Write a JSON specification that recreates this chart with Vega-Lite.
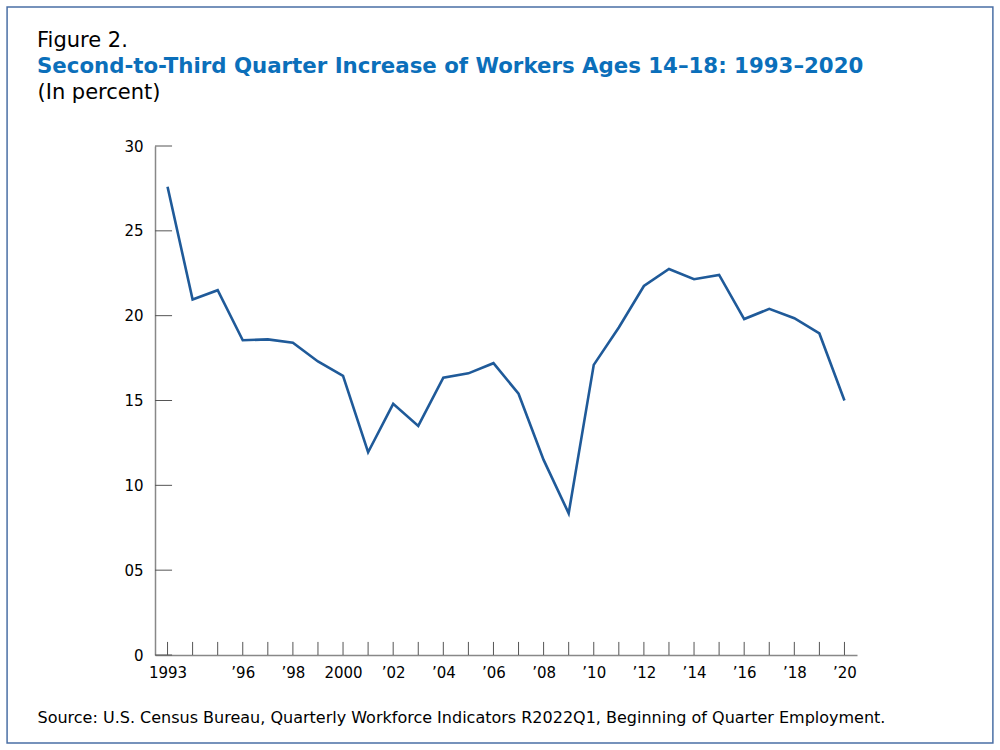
{
  "$schema": "https://vega.github.io/schema/vega-lite/v6.json",
  "width": 702,
  "height": 509,
  "autosize": {"type": "none"},
  "padding": {"left": 155, "top": 146, "right": 143, "bottom": 95},
  "background": "white",
  "config": {
    "view": {"stroke": null},
    "font": "DejaVu Sans"
  },
  "title": {
    "text": "Figure 2.",
    "subtitle": "Second-to-Third Quarter Increase of Workers Ages 14–18: 1993–2020",
    "anchor": "start",
    "frame": "group",
    "dx": -118,
    "dy": 71,
    "offset": 0,
    "font": "DejaVu Sans",
    "fontSize": 21,
    "fontWeight": "normal",
    "color": "black",
    "subtitleFont": "DejaVu Sans",
    "subtitleFontSize": 21.3,
    "subtitleFontWeight": "bold",
    "subtitleColor": "#0b6fba",
    "subtitlePadding": 5
  },
  "datasets": {
    "series": [
      {"year": 1993, "pct": 27.6},
      {"year": 1994, "pct": 20.95},
      {"year": 1995, "pct": 21.5},
      {"year": 1996, "pct": 18.55},
      {"year": 1997, "pct": 18.6},
      {"year": 1998, "pct": 18.4},
      {"year": 1999, "pct": 17.3},
      {"year": 2000, "pct": 16.45},
      {"year": 2001, "pct": 11.95},
      {"year": 2002, "pct": 14.8},
      {"year": 2003, "pct": 13.5},
      {"year": 2004, "pct": 16.35},
      {"year": 2005, "pct": 16.6},
      {"year": 2006, "pct": 17.2},
      {"year": 2007, "pct": 15.4},
      {"year": 2008, "pct": 11.5},
      {"year": 2009, "pct": 8.35},
      {"year": 2010, "pct": 17.1},
      {"year": 2011, "pct": 19.3},
      {"year": 2012, "pct": 21.75},
      {"year": 2013, "pct": 22.75},
      {"year": 2014, "pct": 22.15},
      {"year": 2015, "pct": 22.4},
      {"year": 2016, "pct": 19.8},
      {"year": 2017, "pct": 20.4},
      {"year": 2018, "pct": 19.85},
      {"year": 2019, "pct": 18.95},
      {"year": 2020, "pct": 15.0}
    ],
    "yticks": [
      {"pct": 0}, {"pct": 5}, {"pct": 10}, {"pct": 15}, {"pct": 20}, {"pct": 25}, {"pct": 30}
    ]
  },
  "layer": [
    {
      "data": {"name": "series"},
      "mark": {"type": "line", "color": "#1f5a99", "strokeWidth": 2.6},
      "encoding": {
        "x": {
          "field": "year",
          "type": "quantitative",
          "scale": {"domain": [1992.5, 2020.5], "nice": false, "zero": false},
          "axis": {
            "values": [1993, 1996, 1998, 2000, 2002, 2004, 2006, 2008, 2010, 2012, 2014, 2016, 2018, 2020],
            "labelExpr": "datum.value == 1993 || datum.value == 2000 ? datum.value + '' : '’' + substring(datum.value + '', 2, 4)",
            "grid": false,
            "ticks": false,
            "domainColor": "#888888",
            "domainWidth": 1.5,
            "labelPadding": 10,
            "labelFontSize": 15,
            "labelColor": "black",
            "labelFont": "DejaVu Sans",
            "labelOverlap": false,
            "title": "Source: U.S. Census Bureau, Quarterly Workforce Indicators R2022Q1, Beginning of Quarter Employment.",
            "titleFont": "DejaVu Sans",
            "titleFontSize": 16,
            "titleFontWeight": "normal",
            "titleColor": "black",
            "titleAlign": "left",
            "titleBaseline": "alphabetic",
            "titleAnchor": "start",
            "titleX": -118,
            "titleY": 67
          }
        },
        "y": {
          "field": "pct",
          "type": "quantitative",
          "scale": {"domain": [0, 30], "nice": false},
          "axis": {
            "values": [0, 5, 10, 15, 20, 25, 30],
            "labelExpr": "datum.value == 0 ? '0' : (datum.value == 5 ? '05' : datum.label)",
            "grid": false,
            "ticks": false,
            "domainColor": "#888888",
            "domainWidth": 1.5,
            "labelPadding": 12,
            "labelFontSize": 15,
            "labelColor": "black",
            "labelFont": "DejaVu Sans",
            "labelOverlap": false,
            "title": "(In percent)",
            "titleFont": "DejaVu Sans",
            "titleFontSize": 21,
            "titleFontWeight": "normal",
            "titleColor": "black",
            "titleAngle": 0,
            "titleAlign": "left",
            "titleBaseline": "alphabetic",
            "titleX": -118,
            "titleY": -48
          }
        }
      }
    },
    {
      "data": {"name": "series"},
      "mark": {"type": "rule", "color": "#555555", "strokeWidth": 1},
      "encoding": {
        "x": {"field": "year", "type": "quantitative"},
        "y": {"datum": 0, "type": "quantitative"},
        "y2": {"datum": 0.77}
      }
    },
    {
      "data": {"name": "yticks"},
      "mark": {"type": "rule", "color": "#555555", "strokeWidth": 1},
      "encoding": {
        "y": {"field": "pct", "type": "quantitative"},
        "x": {"datum": 1992.5, "type": "quantitative"},
        "x2": {"datum": 1993.18}
      }
    },
    {
      "data": {"values": [{}]},
      "mark": {"type": "rect", "filled": false, "stroke": "#4a6fa5", "strokeWidth": 1.5},
      "encoding": {
        "x": {"datum": 1986.6, "type": "quantitative"},
        "x2": {"datum": 2025.92},
        "y": {"datum": 38.19, "type": "quantitative"},
        "y2": {"datum": -5.19}
      }
    }
  ]
}
